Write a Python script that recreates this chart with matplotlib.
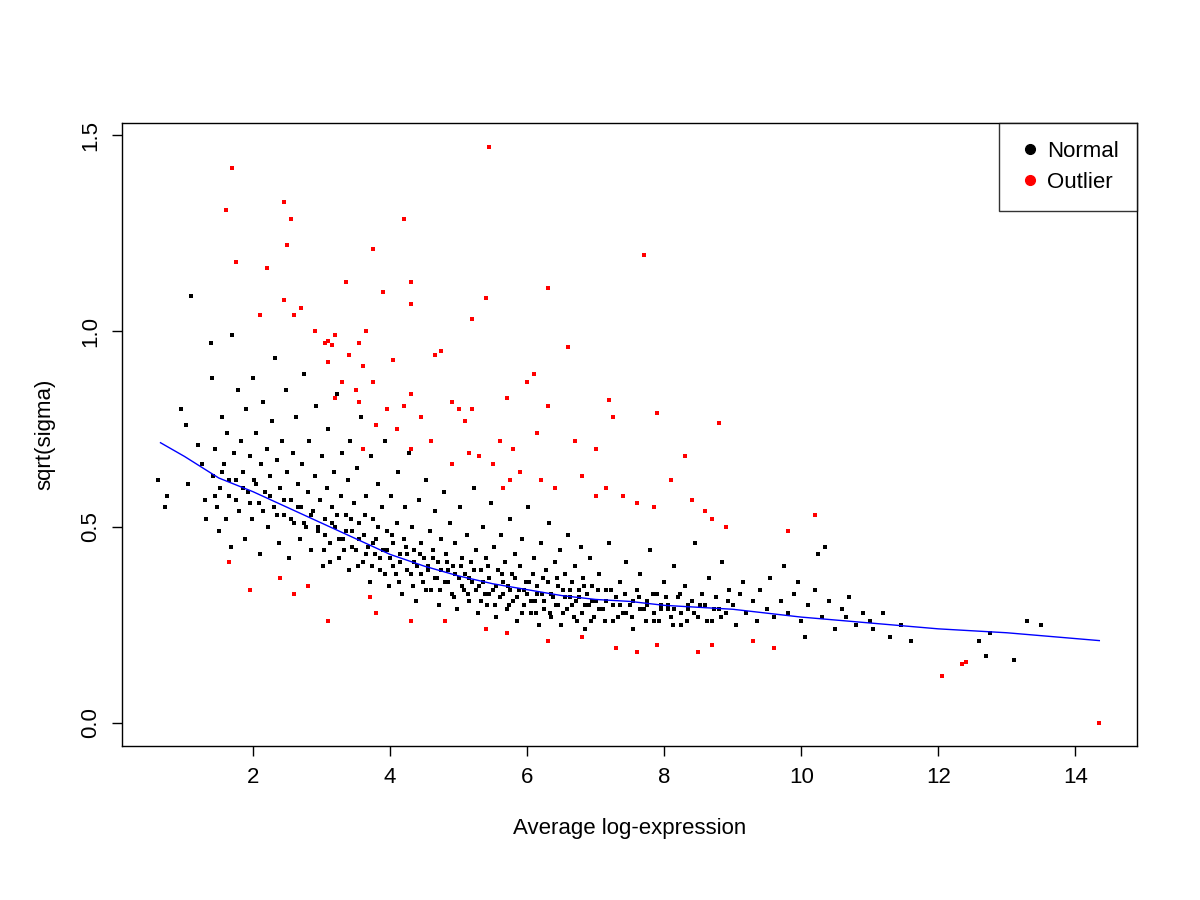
import matplotlib
matplotlib.use("Agg")
import numpy as np
import matplotlib.pyplot as plt

# black points ("Normal"), read roughly off the picture as x y pairs
normal_txt = """
0.62 0.62 0.72 0.55 0.75 0.58 0.95 0.80 1.02 0.76 1.10 1.09 1.05 0.61 1.20 0.71 1.25 0.66 1.30 0.57
1.32 0.52 1.38 0.97 1.40 0.88 1.42 0.63 1.45 0.70 1.48 0.55 1.50 0.49 1.52 0.60 1.55 0.78 1.58 0.66
1.60 0.52 1.62 0.74 1.65 0.58 1.68 0.45 1.70 0.99 1.72 0.69 1.75 0.62 1.78 0.85 1.80 0.54 1.82 0.72
1.85 0.64 1.88 0.47 1.90 0.80 1.92 0.59 1.95 0.68 1.98 0.52 2.00 0.88 2.02 0.62 2.05 0.74 2.08 0.56
2.10 0.43 2.12 0.66 2.15 0.82 2.18 0.59 2.20 0.70 2.22 0.50 2.25 0.63 2.28 0.77 2.30 0.55 2.32 0.93
2.35 0.67 2.38 0.46 2.40 0.60 2.42 0.72 2.45 0.53 2.48 0.85 2.50 0.64 2.52 0.42 2.55 0.57 2.58 0.69
2.60 0.51 2.62 0.78 2.65 0.61 2.68 0.47 2.70 0.55 2.72 0.66 2.75 0.89 2.78 0.50 2.80 0.59 2.82 0.72
2.85 0.44 2.88 0.54 2.90 0.63 2.92 0.81 2.95 0.49 2.98 0.57 3.00 0.68 3.02 0.40 3.05 0.52 3.08 0.60
3.10 0.75 3.12 0.46 3.15 0.55 3.18 0.64 3.20 0.50 3.22 0.84 3.25 0.42 3.28 0.58 3.30 0.69 3.32 0.47
3.35 0.53 3.38 0.62 3.40 0.39 3.42 0.72 3.45 0.49 3.48 0.56 3.50 0.44 3.52 0.65 3.55 0.51 3.58 0.78
3.60 0.41 3.62 0.48 3.65 0.58 3.68 0.45 3.70 0.36 3.72 0.68 3.75 0.52 3.78 0.43 3.80 0.47 3.82 0.61
3.85 0.39 3.88 0.55 3.90 0.44 3.92 0.72 3.95 0.49 3.98 0.35 4.00 0.42 4.02 0.58 4.05 0.46 4.08 0.38
4.10 0.51 4.12 0.64 4.15 0.41 4.18 0.33 4.20 0.47 4.22 0.55 4.25 0.43 4.28 0.69 4.30 0.38 4.32 0.50
4.35 0.44 4.38 0.31 4.40 0.40 4.42 0.57 4.45 0.46 4.48 0.36 4.50 0.42 4.52 0.62 4.55 0.39 4.58 0.49
4.60 0.34 4.62 0.44 4.65 0.54 4.68 0.37 4.70 0.41 4.72 0.30 4.75 0.47 4.78 0.59 4.80 0.36 4.82 0.43
4.85 0.39 4.88 0.51 4.90 0.33 4.92 0.40 4.95 0.46 4.98 0.29 5.00 0.37 5.02 0.55 5.05 0.42 5.08 0.34
5.10 0.38 5.12 0.48 5.15 0.31 5.18 0.41 5.20 0.36 5.22 0.60 5.25 0.44 5.28 0.28 5.30 0.35 5.32 0.39
5.35 0.50 5.38 0.33 5.40 0.42 5.42 0.30 5.45 0.37 5.48 0.56 5.50 0.34 5.52 0.45 5.55 0.27 5.58 0.39
5.60 0.32 5.62 0.48 5.65 0.36 5.68 0.41 5.70 0.29 5.72 0.35 5.75 0.52 5.78 0.38 5.80 0.31 5.82 0.43
5.85 0.26 5.88 0.34 5.90 0.40 5.92 0.47 5.95 0.30 5.98 0.36 6.00 0.33 6.02 0.55 6.05 0.28 6.08 0.38
6.10 0.42 6.12 0.31 6.15 0.35 6.18 0.25 6.20 0.46 6.22 0.33 6.25 0.29 6.28 0.39 6.30 0.36 6.32 0.51
6.35 0.27 6.38 0.32 6.40 0.41 6.42 0.30 6.45 0.35 6.48 0.44 6.50 0.25 6.52 0.34 6.55 0.38 6.58 0.29
6.60 0.48 6.62 0.32 6.65 0.36 6.68 0.27 6.70 0.40 6.72 0.31 6.75 0.34 6.78 0.45 6.80 0.28 6.82 0.37
6.85 0.24 6.88 0.33 6.90 0.30 6.92 0.42 6.95 0.35 6.98 0.27 7.00 0.31 7.05 0.38 7.10 0.29 7.15 0.34
7.20 0.46 7.25 0.26 7.30 0.32 7.35 0.36 7.40 0.28 7.45 0.41 7.50 0.30 7.55 0.24 7.60 0.34 7.65 0.38
7.70 0.29 7.75 0.31 7.80 0.44 7.85 0.26 7.90 0.33 7.95 0.29 8.00 0.36 8.05 0.30 8.10 0.27 8.15 0.40
8.20 0.32 8.25 0.25 8.30 0.35 8.35 0.29 8.40 0.31 8.45 0.46 8.50 0.27 8.55 0.33 8.60 0.30 8.65 0.37
8.70 0.26 8.75 0.32 8.80 0.29 8.85 0.41 8.90 0.28 8.95 0.34 9.00 0.30 9.05 0.25 9.10 0.33 9.15 0.36
9.20 0.28 9.30 0.31 9.35 0.26 9.40 0.34 9.50 0.29 9.55 0.37 9.60 0.27 9.70 0.31 9.75 0.40 9.80 0.28
9.90 0.33 9.95 0.36 10.00 0.26 10.05 0.22 10.10 0.30 10.20 0.34 10.25 0.43 10.30 0.27 10.35 0.45 10.40 0.31
10.50 0.24 10.60 0.29 10.65 0.27 10.70 0.32 10.80 0.25 10.90 0.28 11.00 0.26 11.05 0.24 11.20 0.28 11.30 0.22
11.45 0.25 11.60 0.21 12.60 0.21 12.70 0.17 12.75 0.23 13.10 0.16 13.30 0.26 13.50 0.25
1.45 0.58 1.55 0.64 1.65 0.62 1.75 0.57 1.85 0.60 1.95 0.56 2.05 0.61 2.15 0.54 2.25 0.58 2.35 0.53
2.45 0.57 2.55 0.52 2.65 0.55 2.75 0.51 2.85 0.53 2.95 0.50 3.05 0.48 3.15 0.51 3.25 0.47 3.35 0.49
3.45 0.45 3.55 0.47 3.65 0.43 3.75 0.46 3.85 0.42 3.95 0.44 4.05 0.40 4.15 0.43 4.25 0.39 4.35 0.41
4.45 0.38 4.55 0.40 4.65 0.37 4.75 0.39 4.85 0.36 4.95 0.38 5.05 0.35 5.15 0.37 5.25 0.34 5.35 0.36
5.45 0.33 5.55 0.35 5.65 0.33 5.75 0.34 5.85 0.32 5.95 0.34 6.05 0.31 6.15 0.33 6.25 0.31 6.35 0.33
6.45 0.30 6.55 0.32 6.65 0.30 6.75 0.32 6.85 0.30 6.95 0.31 7.05 0.29 7.15 0.31 7.25 0.30 7.35 0.30
7.45 0.28 7.55 0.31 7.65 0.29 7.75 0.30 7.85 0.28 7.95 0.30 8.05 0.29 8.15 0.29 8.25 0.28 8.35 0.30
3.03 0.44 3.13 0.41 3.23 0.53 3.33 0.44 3.43 0.52 3.53 0.40 3.63 0.53 3.73 0.40 3.83 0.50 3.93 0.38
4.03 0.48 4.13 0.36 4.23 0.45 4.33 0.35 4.43 0.43 4.53 0.34 4.63 0.42 4.73 0.34 4.83 0.41 4.93 0.32
5.03 0.40 5.13 0.33 5.23 0.39 5.33 0.31 5.43 0.40 5.53 0.30 5.63 0.38 5.73 0.30 5.83 0.37 5.93 0.28
6.03 0.36 6.13 0.28 6.23 0.37 6.33 0.28 6.43 0.37 6.53 0.28 6.63 0.34 6.73 0.26 6.83 0.35 6.93 0.26
7.03 0.34 7.13 0.26 7.23 0.34 7.33 0.27 7.43 0.33 7.53 0.27 7.63 0.32 7.73 0.26 7.83 0.33 7.93 0.26
8.03 0.32 8.13 0.25 8.23 0.33 8.33 0.26 8.43 0.28 8.53 0.30 8.63 0.26 8.73 0.29 8.83 0.27 8.93 0.31
"""

# red points ("Outlier")
outlier_txt = """
1.70 1.415 1.60 1.31 1.75 1.175 2.45 1.33 2.55 1.285 2.50 1.22 2.20 1.16 2.45 1.08 2.10 1.04 2.60 1.04
2.70 1.06 5.45 1.47 7.70 1.195 3.35 1.125 3.75 1.21 4.20 1.285 4.30 1.125 4.30 1.07 3.90 1.10 5.40 1.085
6.30 1.11 5.20 1.03 2.90 1.00 3.10 0.975 3.20 0.99 3.05 0.97 3.15 0.965 3.65 1.00 3.55 0.97 3.40 0.94
4.05 0.925 4.65 0.94 4.75 0.95 6.60 0.96 3.10 0.92 3.60 0.91 3.75 0.87 3.30 0.87 3.95 0.80 4.20 0.81
4.30 0.84 3.50 0.85 4.45 0.78 3.20 0.83 3.55 0.82 4.90 0.82 5.70 0.83 6.10 0.89 6.00 0.87 6.30 0.81
7.20 0.825 7.25 0.78 7.90 0.79 8.80 0.765 5.00 0.80 5.20 0.80 5.10 0.77 4.60 0.72 4.30 0.70 4.10 0.75
3.80 0.76 3.60 0.70 5.60 0.72 5.80 0.70 6.15 0.74 6.70 0.72 7.00 0.70 5.30 0.68 5.50 0.66 4.90 0.66
5.15 0.69 5.75 0.62 5.90 0.64 5.65 0.60 6.20 0.62 6.40 0.60 6.80 0.63 7.15 0.60 7.40 0.58 7.60 0.56
7.85 0.55 8.30 0.68 8.10 0.62 8.60 0.54 8.70 0.52 8.90 0.50 8.40 0.57 7.00 0.58 10.20 0.53 9.80 0.49
1.65 0.41 1.95 0.34 2.40 0.37 2.60 0.33 2.80 0.35 3.10 0.26 3.70 0.32 3.80 0.28 4.30 0.26 4.80 0.26
5.40 0.24 5.70 0.23 6.30 0.21 6.80 0.22 7.30 0.19 7.60 0.18 7.90 0.20 8.50 0.18 8.70 0.20 9.30 0.21
9.60 0.19 12.05 0.12 12.35 0.15 12.40 0.155 14.35 0.00
"""

trend_x = [0.65, 1.0, 1.5, 2.0, 2.5, 3.0, 3.5, 4.0, 4.5, 5.0, 5.5, 6.0, 6.5, 7.0, 7.5,
           8.0, 8.5, 9.0, 9.5, 10.0, 11.0, 12.0, 13.0, 14.35]
trend_y = [0.715, 0.68, 0.625, 0.59, 0.55, 0.51, 0.47, 0.43, 0.40, 0.375, 0.355, 0.34,
           0.325, 0.315, 0.31, 0.30, 0.295, 0.29, 0.28, 0.27, 0.255, 0.24, 0.23, 0.21]

normal = np.array(normal_txt.split(), dtype=float).reshape(-1, 2)
outlier = np.array(outlier_txt.split(), dtype=float).reshape(-1, 2)

plt.rcParams["font.family"] = ["Liberation Sans", "DejaVu Sans"]
fig = plt.figure(figsize=(12, 9), dpi=100)
ax = fig.add_axes([122/1200, 1 - 746/900, (1137-122)/1200, (746-123)/900])

ax.scatter(normal[:, 0], normal[:, 1], s=7, c="black", marker="s", linewidths=0)
ax.scatter(outlier[:, 0], outlier[:, 1], s=7, c="red", marker="s", linewidths=0)
ax.plot(trend_x, trend_y, color="blue", lw=1)

ax.set_xlim(0.088, 14.9)
ax.set_ylim(-0.059, 1.531)
ax.set_xticks([2, 4, 6, 8, 10, 12, 14])
ax.set_yticks([0.0, 0.5, 1.0, 1.5])
ax.set_yticklabels(["0.0", "0.5", "1.0", "1.5"], rotation=90, va="center")
ax.tick_params(labelsize=16, length=7, width=1)
ax.tick_params(axis="x", pad=8)
ax.tick_params(axis="y", pad=8)
for s in ax.spines.values():
    s.set_linewidth(1)
ax.set_xlabel("Average log-expression", fontsize=16, labelpad=22)
ax.set_ylabel("sqrt(sigma)", fontsize=16, labelpad=18)

h1 = plt.Line2D([], [], marker="o", ls="", color="black", markersize=7)
h2 = plt.Line2D([], [], marker="o", ls="", color="red", markersize=7)
leg = ax.legend([h1, h2], ["Normal", "Outlier"], loc="upper right", fontsize=16,
                frameon=True, fancybox=False, borderaxespad=0, handletextpad=0.2,
                handlelength=1.2, borderpad=0.8, labelspacing=0.45)
leg.get_frame().set_edgecolor("black")
leg.get_frame().set_linewidth(1)

fig.savefig("out.png", dpi=100)
